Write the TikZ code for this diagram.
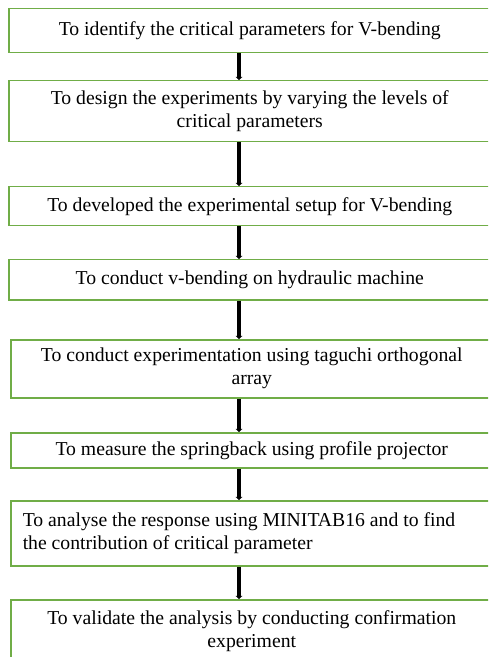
\documentclass[tikz,border=0pt]{standalone}
\usepackage{fontspec}
\setmainfont{Liberation Serif}
\usetikzlibrary{arrows.meta}
\definecolor{boxgreen}{RGB}{112,173,71}

\begin{document}
\begin{tikzpicture}[x=0.5pt,y=-0.5pt,font=\fontsize{9.85}{11.5}\selectfont,
  stepbox/.style={draw=boxgreen,line width=0.75pt,anchor=north west,
    minimum width=241pt,text width=222pt,inner xsep=9.5pt,inner ysep=2pt,align=flush center},
  flow/.style={line width=2pt,-{Triangle[length=1.6pt,width=3.4pt]}}]
  \useasboundingbox (0,0) rectangle (488,657);
  \clip (0,0) rectangle (488,657);
  \coordinate (ax) at (239,0);
  \node[stepbox,minimum height=22pt] (s1) at (8,8)
    {To identify the critical parameters for V-bending};
  \node[stepbox,minimum height=30.5pt] (s2) at (8,80)
    {To design the experiments by varying the levels of critical parameters};
  \node[stepbox,minimum height=19.5pt] (s3) at (8,186)
    {To developed the experimental setup for V-bending};
  \node[stepbox,minimum height=20pt] (s4) at (8,259)
    {To conduct v-bending on hydraulic machine};
  \node[stepbox,minimum height=29pt] (s5) at (10,339)
    {To conduct experimentation using taguchi orthogonal array};
  \node[stepbox,minimum height=17.5pt] (s6) at (10,432)
    {To measure the springback using profile projector};
  \node[stepbox,minimum height=32.5pt,text width=229pt,inner xsep=6pt,align=flush left] (s7) at (10,500)
    {To analyse the response using MINITAB16 and to find the contribution of critical parameter};
  \node[stepbox,minimum height=31.5pt] (s8) at (10,599)
    {To validate the analysis by conducting confirmation experiment};
  \foreach \a/\b in {s1/s2,s2/s3,s3/s4,s4/s5,s5/s6,s6/s7,s7/s8}
    \draw[flow] (\a.south -| ax) -- (\b.north -| ax);
\end{tikzpicture}
\end{document}
